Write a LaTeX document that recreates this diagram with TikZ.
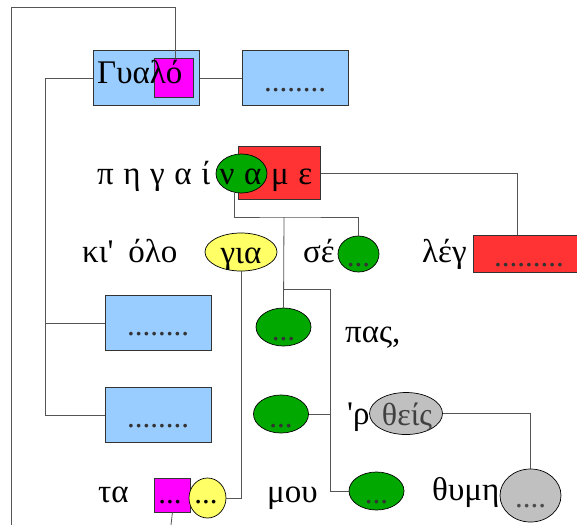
\documentclass[tikz,border=0pt]{standalone}
\usepackage{fontspec}
\setmainfont{Liberation Serif}
\newfontfamily\plainq{Liberation Serif}[Ligatures=TeXOff]
\usetikzlibrary{shapes.geometric,calc}
\definecolor{cblue}{HTML}{99CCFF}
\definecolor{cmag}{HTML}{FF00FF}
\definecolor{cred}{HTML}{FF3333}
\definecolor{cgreen}{HTML}{00A800}
\definecolor{cyel}{HTML}{FFFF66}
\definecolor{cgrey}{HTML}{C0C0C0}
\definecolor{cline}{HTML}{555555}
\definecolor{cdot}{HTML}{333333}
\begin{document}
\begin{tikzpicture}[x=1pt,y=-1pt,
  rectbox/.style={draw=black!80, line width=0.8pt, inner sep=0, anchor=north west},
  bluebox/.style={rectbox, fill=cblue, minimum width=106pt, minimum height=55pt},
  magbox/.style={rectbox, fill=cmag},
  redbox/.style={rectbox, fill=cred},
  ell/.style={ellipse, draw=black, line width=0.7pt, inner sep=0},
  gell/.style={ell, fill=cgreen, minimum width=55pt, minimum height=38pt},
  txt/.style={anchor=base west, inner sep=0, font=\fontsize{33}{33}\selectfont},
  ctxt/.style={anchor=base, inner sep=0, font=\fontsize{33}{33}\selectfont},
  dots/.style={anchor=base, inner sep=0, font=\fontsize{31}{31}\selectfont, text=cdot},
  conn/.style={draw=cline, line width=0.8pt}]
\clip (0,0) rectangle (577,525);
% coordinates for free ends and junctions
\coordinate (lb) at (11,525);
\coordinate (mb) at (171,525);
\coordinate (j1) at (284,217);
\coordinate (j2) at (284,289);
\coordinate (vx) at (330,289);
% shapes
\node[bluebox] (b1) at (93,50) {};
\node[magbox, minimum width=39pt, minimum height=39pt] (m1) at (154,58) {};
\node[txt] (t1) at (97,83) {Γυαλό};
\node[bluebox] (b2) at (242,50) {};
\node[dots] (d2) at (295,91) {........};
\node[bluebox] (b3) at (105,295) {};
\node[dots] (d3) at (158,335) {........};
\node[bluebox] (b4) at (105,387) {};
\node[dots] (d4) at (158,427) {........};
\node[redbox, minimum width=82pt, minimum height=53pt] (r1) at (238,146) {};
\node[ell, fill=cgreen, minimum width=51pt, minimum height=39pt] (g1) at (241.5,173.5) {};
\node[txt] (t2) at (97,184) {π\hspace{0.29em}η\hspace{0.29em}γ\hspace{0.29em}α\hspace{0.29em}ί\hspace{0.29em}ν\hspace{0.29em}α\hspace{0.29em}μ\hspace{0.29em}ε};
\node[redbox, minimum width=130pt, minimum height=37pt] (r2) at (473,235) {};
\node[dots] (d5) at (529,266) {.........};
\node[txt] (t3) at (422,262) {λέγ};
\node[txt] (t4) at (82,262) {κι{\plainq '}\hspace{0.45em}όλο};
\node[ell, fill=cyel, minimum width=72pt, minimum height=38pt] (y1) at (241,252) {};
\node[ctxt] (t5) at (241,263) {για};
\node[txt] (t6) at (303,262) {σέ};
\node[ell, fill=cgreen, minimum width=41pt, minimum height=36pt] (g2) at (358.5,254) {};
\node[dots] (d6) at (358.5,266) {...};
\node[gell] (g3) at (283.5,327) {};
\node[dots] (d7) at (283.5,340) {...};
\node[txt] (t7) at (345,342) {πας,};
\node[gell] (g4) at (281,414) {};
\node[dots] (d8) at (281,427) {...};
\node[txt] (t8) at (347,424) {{\plainq '}ρ};
\node[ell, fill=cgrey, minimum width=73pt, minimum height=42pt] (e1) at (406,413.5) {};
\node[ctxt, text=black!75, font=\fontsize{32}{32}\selectfont] (t9) at (407,425) {θείς};
\node[ell, fill=cgrey, minimum width=61pt, minimum height=53pt] (e2) at (530.5,495.5) {};
\node[dots, text=black!70] (d9) at (530.5,507) {....};
\node[txt] (t10) at (432,500) {θυμη};
\node[gell] (g5) at (376.5,491) {};
\node[dots] (d10) at (376.5,503) {...};
\node[txt] (t11) at (267,502) {μου};
\node[txt] (t12) at (98,502) {τα};
\node[magbox, minimum width=36pt, minimum height=34pt] (m2) at (154,478) {};
\node[ell, fill=cyel, minimum width=37pt, minimum height=40pt] (y2) at (207.5,498) {};
\node[dots, text=black] (d11) at (170,503) {...};
\node[dots, text=black] (d12) at (206,503) {...};
% connectors
\draw[conn] (lb) -- ++(0,-518) -| ([xshift=1.5pt]m1.north);
\draw[conn] (b1.east) -- (b2.west);
\draw[conn] (b1.west) -- ++(-48,0) |- (b4.west);
\draw[conn] (b3.west) -- ++(-60,0);
\draw[conn] (r1.east) -| ([xshift=44pt]r2.north west);
\draw[conn] (g1.250) |- (j1) -| (g2.north);
\draw[conn] (j1) -- (g3.north);
\draw[conn] (j2) -- (vx) |- (g5.west);
\draw[conn] (g4.east) -- (g4.east -| vx);
\draw[conn] (e1.east) -| (e2.north);
\draw[conn] (y1.south) |- (y2.east);
\draw[conn] (m2.south) -- (mb);
\end{tikzpicture}
\end{document}
